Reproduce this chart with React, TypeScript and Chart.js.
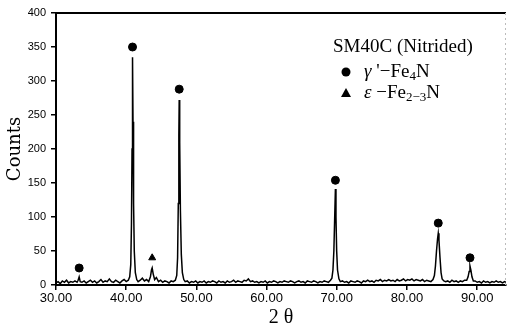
import React, { useEffect, useRef } from 'react';
import { Chart, registerables } from 'chart.js';

Chart.register(...registerables);

// ---- data ----
const twoTheta = [
  30.0, 30.3, 30.6, 30.9, 31.2, 31.5, 31.8, 32.1, 32.4, 32.7,
  33.0, 33.15, 33.3, 33.45, 33.7, 34.0, 34.3, 34.6, 34.9, 35.2,
  35.5, 35.8, 36.1, 36.4, 36.7, 37.0, 37.3, 37.6, 37.9, 38.2,
  38.5, 38.8, 39.1, 39.4, 39.7, 40.0, 40.3, 40.5, 40.65, 40.75,
  40.83, 40.9, 40.97, 41.05, 41.15, 41.3, 41.5, 41.7, 42.0, 42.3,
  42.6, 42.9, 43.2, 43.45, 43.6, 43.7, 43.85, 44.05, 44.3, 44.6,
  44.9, 45.2, 45.5, 45.8, 46.1, 46.4, 46.7, 47.0, 47.2, 47.32,
  47.42, 47.5, 47.55, 47.62, 47.72, 47.85, 48.0, 48.2, 48.4, 48.7,
  49.0, 49.3, 49.6, 49.9, 50.2, 50.5, 50.8, 51.1, 51.4, 51.7,
  52.0, 52.3, 52.6, 52.9, 53.2, 53.5, 53.8, 54.1, 54.4, 54.7,
  55.0, 55.3, 55.6, 55.9, 56.2, 56.5, 56.8, 57.1, 57.4, 57.7,
  58.0, 58.3, 58.6, 58.9, 59.2, 59.5, 59.8, 60.1, 60.4, 60.7,
  61.0, 61.3, 61.6, 61.9, 62.2, 62.5, 62.8, 63.1, 63.4, 63.7,
  64.0, 64.3, 64.6, 64.9, 65.2, 65.5, 65.8, 66.1, 66.4, 66.7,
  67.0, 67.3, 67.6, 67.9, 68.2, 68.5, 68.8, 69.1, 69.3, 69.45,
  69.58, 69.7, 69.8, 69.88, 69.98, 70.1, 70.3, 70.5, 70.8, 71.1,
  71.4, 71.7, 72.0, 72.3, 72.6, 72.9, 73.2, 73.5, 73.8, 74.1,
  74.4, 74.7, 75.0, 75.3, 75.6, 75.9, 76.2, 76.5, 76.8, 77.1,
  77.4, 77.7, 78.0, 78.3, 78.6, 78.9, 79.2, 79.5, 79.8, 80.1,
  80.4, 80.7, 81.0, 81.3, 81.6, 81.9, 82.2, 82.5, 82.8, 83.1,
  83.4, 83.7, 83.9, 84.05, 84.2, 84.35, 84.45, 84.55, 84.7, 84.85,
  85.0, 85.25, 85.5, 85.8, 86.1, 86.4, 86.7, 87.0, 87.3, 87.6,
  87.9, 88.2, 88.5, 88.7, 88.85, 88.97, 89.1, 89.25, 89.45, 89.7,
  90.0, 90.3, 90.6, 90.9, 91.2, 91.5, 91.8, 92.1, 92.4, 92.7,
  93.0, 93.3, 93.6, 93.9, 94.1,
];
const counts = [
  3, 5, 2, 6, 4, 7, 3, 5, 4, 6,
  4, 7, 12, 5, 4, 6, 3, 5, 7, 4,
  6, 3, 5, 8, 4, 6, 5, 9, 5, 4,
  7, 5, 3, 6, 8, 5, 7, 12, 30, 90,
  200, 335, 240, 120, 50, 18, 8, 5, 7, 10,
  6, 8, 5, 12, 22, 25, 16, 8, 11, 5,
  7, 4, 6, 5, 3, 6, 5, 7, 14, 40,
  120, 220, 272, 210, 110, 45, 18, 8, 5, 6,
  3, 5, 4, 6, 3, 5, 4, 6, 3, 5,
  4, 6, 5, 3, 6, 4, 5, 3, 6, 4,
  5, 7, 4, 6, 5, 4, 7, 6, 9, 5,
  6, 4, 5, 3, 5, 4, 6, 3, 5, 4,
  6, 5, 3, 5, 4, 6, 5, 4, 6, 5,
  3, 5, 6, 4, 5, 3, 6, 5, 4, 6,
  5, 3, 5, 4, 6, 5, 4, 7, 10, 22,
  50, 100, 141, 100, 50, 22, 9, 5, 6, 4,
  5, 3, 6, 5, 4, 6, 5, 3, 6, 5,
  7, 5, 6, 4, 7, 6, 8, 5, 7, 6,
  8, 6, 7, 5, 8, 6, 7, 9, 6, 8,
  7, 9, 6, 8, 7, 6, 8, 5, 7, 6,
  5, 8, 14, 28, 50, 68, 76, 66, 40, 18,
  9, 6, 5, 6, 4, 7, 5, 6, 4, 6,
  5, 7, 7, 12, 20, 28, 22, 12, 6, 6,
  4, 5, 3, 6, 4, 5, 3, 5, 4, 6,
  4, 5, 3, 5, 4,
];
const gammaMarkTheta = [33.3, 40.9, 47.55, 69.8, 84.45, 88.97];
const gammaMarkCounts = [25, 350, 288, 154, 91, 40];
const epsMarkTheta = [43.7];
const epsMarkCounts = [40];
const xTickValues = [30, 40, 50, 60, 70, 80, 90];
const yTickValues = [0, 50, 100, 150, 200, 250, 300, 350, 400];
const legendTitle = 'SM40C (Nitrided)';
const xTitle = '2 θ';
const yTitle = 'Counts';

const legendPlugin = {
  id: 'xrdLegend',
  afterDraw(chart: any) {
    const { ctx, chartArea } = chart;
    ctx.save();
    // frame: top line and faint right edge
    ctx.strokeStyle = '#000';
    ctx.lineWidth = 2;
    ctx.beginPath();
    ctx.moveTo(chartArea.left, chartArea.top);
    ctx.lineTo(chartArea.right, chartArea.top);
    ctx.stroke();
    ctx.strokeStyle = '#bbb';
    ctx.lineWidth = 1;
    ctx.setLineDash([2, 3]);
    ctx.beginPath();
    ctx.moveTo(chartArea.right - 0.5, chartArea.top);
    ctx.lineTo(chartArea.right - 0.5, chartArea.bottom);
    ctx.stroke();
    ctx.setLineDash([]);

    ctx.fillStyle = '#000';
    ctx.textBaseline = 'alphabetic';
    ctx.textAlign = 'left';
    ctx.font = '19px "Liberation Serif", serif';
    ctx.fillText(legendTitle, 333, 52);

    const drawRuns = (runs: [string, string][], x0: number, y: number) => {
      let x = x0;
      for (const [t, kind] of runs) {
        if (kind === 'sub') {
          ctx.font = '13px "Liberation Serif", serif';
          ctx.fillText(t, x, y + 3);
        } else if (kind === 'it') {
          ctx.font = 'italic 19px "Liberation Serif", serif';
          ctx.fillText(t, x, y);
        } else {
          ctx.font = '19px "Liberation Serif", serif';
          ctx.fillText(t, x, y);
        }
        x += ctx.measureText(t).width;
      }
    };

    // circle marker
    ctx.beginPath();
    ctx.arc(346, 72, 4.5, 0, Math.PI * 2);
    ctx.fill();
    drawRuns([['γ', 'it'], [" '\u2212", 'n'], ['Fe', 'n'], ['4', 'sub'], ['N', 'n']], 364, 77);

    // triangle marker
    ctx.beginPath();
    ctx.moveTo(346, 88);
    ctx.lineTo(351, 97);
    ctx.lineTo(341, 97);
    ctx.closePath();
    ctx.fill();
    drawRuns([['ε', 'it'], [' \u2212', 'n'], ['Fe', 'n'], ['2\u22123', 'sub'], ['N', 'n']], 364, 98);
    ctx.restore();
  },
};

export default function App() {
  const ref = useRef<HTMLCanvasElement | null>(null);
  useEffect(() => {
    document.body.style.margin = '0';
    const canvas = ref.current;
    if (!canvas) return;
    const chart = new Chart(canvas, {
      type: 'line',
      data: {
        datasets: [
          {
            type: 'line',
            data: twoTheta.map((x, i) => ({ x, y: counts[i] })),
            borderColor: '#000',
            borderWidth: 1.5,
            pointRadius: 0,
            tension: 0,
            fill: false,
          },
          {
            type: 'scatter',
            data: gammaMarkTheta.map((x, i) => ({ x, y: gammaMarkCounts[i] })),
            pointStyle: 'circle',
            pointRadius: 4,
            backgroundColor: '#000',
            borderColor: '#000',
          },
          {
            type: 'scatter',
            data: epsMarkTheta.map((x, i) => ({ x, y: epsMarkCounts[i] })),
            pointStyle: 'triangle',
            pointRadius: 4,
            backgroundColor: '#000',
            borderColor: '#000',
          },
        ] as any,
      },
      options: {
        animation: false,
        responsive: false,
        layout: { padding: { top: 13, right: 2, left: 0, bottom: 0 } },
        plugins: { legend: { display: false }, tooltip: { enabled: false } },
        scales: {
          x: {
            type: 'linear',
            min: 30,
            max: 94.1,
            afterBuildTicks: (s: any) => {
              s.ticks = xTickValues.map((v) => ({ value: v }));
            },
            afterFit: (s: any) => {
              s.height = 43;
            },
            ticks: {
              color: '#000',
              padding: 1,
              maxRotation: 0,
              autoSkip: false,
              font: { family: '"Liberation Sans", Arial, sans-serif', size: 13 },
              callback: (v: any) => Number(v).toFixed(2),
            },
            grid: { drawOnChartArea: false, tickLength: 5, color: '#000', lineWidth: 1.5 },
            border: { color: '#000', width: 2 },
            title: {
              display: true,
              text: xTitle,
              color: '#000',
              font: { family: '"Liberation Serif", serif', size: 20, lineHeight: 1 },
              padding: { top: 0, bottom: 0 },
            },
          },
          y: {
            min: 0,
            max: 400,
            afterBuildTicks: (s: any) => {
              s.ticks = yTickValues.map((v) => ({ value: v }));
            },
            afterFit: (s: any) => {
              s.width = 56;
            },
            ticks: {
              color: '#000',
              padding: 5,
              autoSkip: false,
              font: { family: '"Liberation Sans", Arial, sans-serif', size: 11 },
            },
            grid: { drawOnChartArea: false, tickLength: 5, color: '#000', lineWidth: 1.5 },
            border: { color: '#000', width: 2 },
            title: {
              display: true,
              text: yTitle,
              color: '#000',
              font: { family: '"DejaVu Serif", serif', size: 18, lineHeight: 1.2 },
              padding: { top: 5, bottom: 0 },
            },
          },
        },
      } as any,
      plugins: [legendPlugin],
    });
    return () => chart.destroy();
  }, []);
  return (
    <div style={{ width: 511, height: 328 }}>
      <canvas ref={ref} width={511} height={328} style={{ display: 'block' }} />
    </div>
  );
}
